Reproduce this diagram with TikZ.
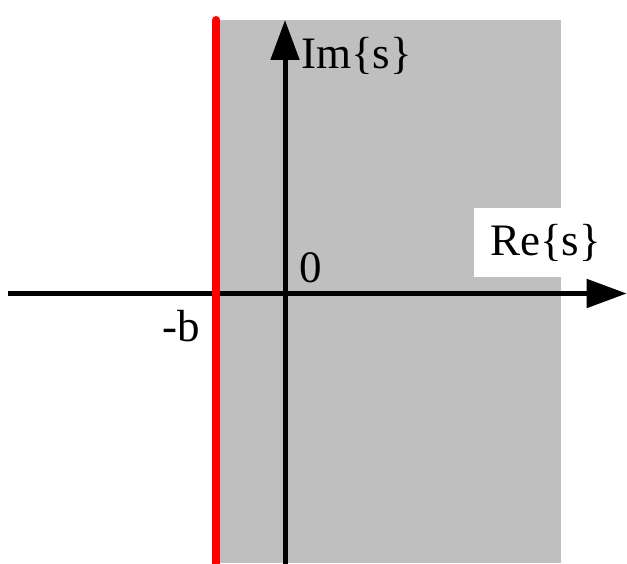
\documentclass[tikz,border=0pt]{standalone}
\usepackage{fontspec}
\setmainfont{Liberation Serif}
\newfontfamily\lblfont{Liberation Serif}
\usetikzlibrary{arrows.meta}
\begin{document}
\begin{tikzpicture}[x=1pt,y=1pt,
  axis/.style={line width=5pt, -{Triangle[length=40pt,width=28pt]}},
  lbl/.style={inner sep=0pt, font=\lblfont\fontsize{45}{54}\selectfont},
  region/.style={fill=black!25, draw=none},
  boundary/.style={draw=red, line width=8pt, line cap=round}]
\useasboundingbox (0,0) rectangle (627,563);
% shaded region
\fill[region] (217,0) rectangle (561,543);
% white label background
\fill[white] (474,286) rectangle (561,355);
% coordinates
\coordinate (xs) at (8,269.5);
\coordinate (xe) at (626.7,269.5);
\coordinate (ys) at (285,-5);
\coordinate (ye) at (285,543);
\coordinate (bs) at (216.3,-10);
\coordinate (be) at (216.3,543);
% axes
\draw[axis] (xs) -- (xe);
\draw[axis] (ys) -- (ye);
% boundary line
\draw[boundary] (bs) -- (be);
% labels
\node[lbl, anchor=base west] (re) at (490,307) {Re\{s\}};
\node[lbl, anchor=base west] (im) at (301,494.7) {Im\{s\}};
\node[lbl, anchor=base west] (zero) at (299.5,280.3) {0};
\node[lbl, anchor=base east] (mb) at (200.5,221.3) {-b};
\end{tikzpicture}
\end{document}
